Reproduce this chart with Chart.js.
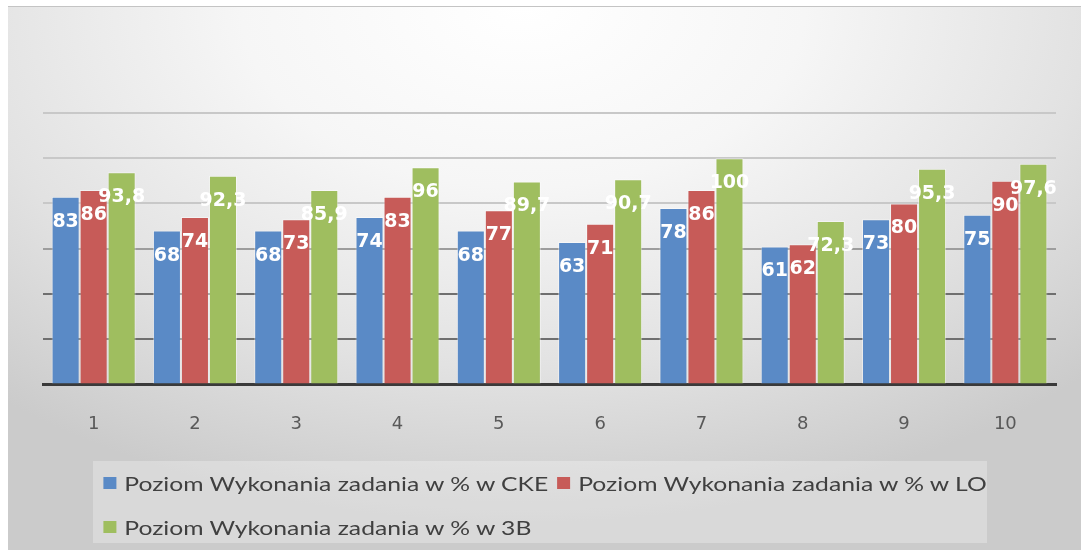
<!DOCTYPE html>
<html>
<head>
<meta charset="utf-8">
<script src="https://cdn.jsdelivr.net/npm/chart.js@4"></script>
<style>
  html, body { margin: 0; padding: 0; background: #fff; }
  body { width: 1081px; height: 550px; position: relative; overflow: hidden; }
  .frame {
    position: absolute; left: 8px; top: 6px; right: 0; bottom: 0;
    border-top: 1px solid #c4c4c4;
    background: radial-gradient(ellipse 75% 95% at 48% 0%, #ffffff 0%, #f6f6f6 35%, #e2e2e2 70%, #cbcbcb 100%);
  }
  .wrap { position: absolute; left: 0; top: 0; width: 1081px; height: 550px; }
  .legend {
    position: absolute; left: 93px; top: 461px; width: 894px; height: 82px;
    background: rgba(255, 255, 255, 0.28);
  }
  .legend .inner {
    width: 720px; transform: scaleX(1.3); transform-origin: 0 0;
    display: flex; flex-wrap: wrap; box-sizing: border-box; padding-left: 8px;
    font-family: Lato, sans-serif; font-size: 19px; color: #404040;
  }
  .legend .item { display: flex; align-items: center; height: 44px; margin-right: 7px; white-space: nowrap; }
  .legend .box { width: 10px; height: 12px; margin-right: 6px; }
</style>
</head>
<body>
<div class="frame"></div>
<div class="wrap"><canvas id="chart"></canvas></div>
<div class="legend"><div class="inner" id="legend"></div></div>
<script>
const categories = ["1", "2", "3", "4", "5", "6", "7", "8", "9", "10"];
const seriesNames = [
  "Poziom Wykonania zadania w % w CKE",
  "Poziom Wykonania zadania w % w LO",
  "Poziom Wykonania zadania w % w 3B"
];
const cke = [83, 68, 68, 74, 68, 63, 78, 61, 73, 75];
const lo = [86, 74, 73, 83, 77, 71, 86, 62, 80, 90];
const klasa3b = [93.8, 92.3, 85.9, 96, 89.7, 90.7, 100, 72.3, 95.3, 97.6];
const colors = ["#5a8ac6", "#c75b58", "#9fbe5f"];

// white value labels inside the bars
const valueLabels = {
  id: "valueLabels",
  afterDatasetsDraw(chart) {
    const ctx = chart.ctx;
    ctx.save();
    ctx.font = "bold 19px 'DejaVu Sans'";
    ctx.fillStyle = "#ffffff";
    ctx.textAlign = "center";
    ctx.textBaseline = "middle";
    chart.data.datasets.forEach((ds, i) => {
      chart.getDatasetMeta(i).data.forEach((bar, j) => {
        ctx.fillText(String(ds.data[j]).replace(".", ","), bar.x, bar.y + 25);
      });
    });
    ctx.restore();
  }
};

const chart = new Chart(document.getElementById("chart"), {
  type: "bar",
  data: {
    labels: categories,
    datasets: [cke, lo, klasa3b].map((d, i) => ({
      label: seriesNames[i],
      data: d,
      backgroundColor: colors[i],
      borderColor: "rgba(255,255,255,0.45)",
      borderWidth: 1,
      categoryPercentage: 0.83,
      barPercentage: 1.0
    }))
  },
  options: {
    responsive: true,
    maintainAspectRatio: false,
    animation: false,
    layout: { padding: { left: 43, right: 25, top: 113, bottom: 86 } },
    plugins: {
      legend: { display: false },
      tooltip: { enabled: false }
    },
    scales: {
      x: {
        grid: { display: false, drawTicks: false },
        border: { color: "#3a3a3a", width: 3 },
        ticks: { color: "#595959", padding: 29, font: { family: "DejaVu Sans", size: 18 } }
      },
      y: {
        min: 0,
        max: 120,
        ticks: { display: false, stepSize: 20 },
        border: { display: false },
        grid: {
          drawTicks: false,
          lineWidth: 2,
          color: (c) => {
            const v = c.tick.value;
            if (v === 0) return "rgba(0,0,0,0)";
            if (v <= 40) return "#6f6f6f";
            if (v === 60) return "#9d9d9d";
            return "#c8c8c8";
          }
        }
      }
    }
  },
  plugins: [valueLabels]
});

// html legend from the datasets
const legendEl = document.getElementById("legend");
chart.data.datasets.forEach((ds) => {
  const item = document.createElement("div");
  item.className = "item";
  const box = document.createElement("span");
  box.className = "box";
  box.style.background = ds.backgroundColor;
  item.appendChild(box);
  item.appendChild(document.createTextNode(ds.label));
  legendEl.appendChild(item);
});
</script>
</body>
</html>
